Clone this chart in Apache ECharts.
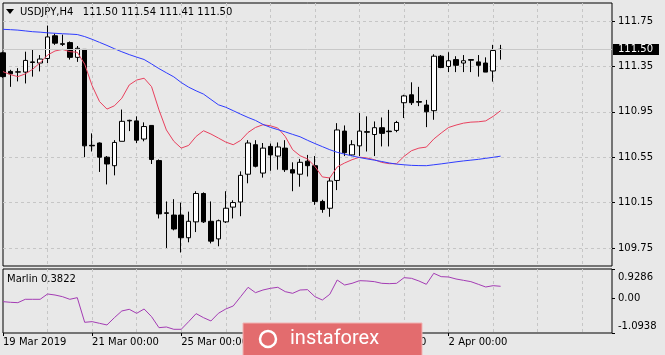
<!DOCTYPE html>
<html>
<head>
<meta charset="utf-8">
<script src="https://cdn.jsdelivr.net/npm/echarts@6/dist/echarts.min.js"></script>
<style>
html,body{margin:0;padding:0;background:#e8e8e8;}
#chart{width:665px;height:355px;}
</style>
</head>
<body>
<div id="chart"></div>
<script>
// USDJPY H4 bars, 19 Mar 2019 00:00 .. 3 Apr 2019 04:00
var opens  = [111.47,111.306,111.302,111.30,111.39,111.38,111.42,111.62,111.55,111.56,
              111.43,111.50,110.655,110.675,110.55,110.475,110.69,110.87,110.87,110.71,
              110.83,110.52,110.06,110.04,110.04,109.84,109.98,110.23,109.985,109.83,
              109.98,110.11,110.155,110.40,110.66,110.41,110.645,110.56,110.63,110.44,
              110.40,110.515,110.475,110.16,110.10,110.345,110.78,110.57,110.65,110.775,
              110.75,110.81,110.78,110.786,111.03,111.10,111.04,111.01,110.96,111.44,
              111.35,111.41,111.38,111.41,111.39,111.38,111.31,111.50];
var closes = [111.26,111.285,111.30,111.403,111.385,111.415,111.61,111.555,111.545,111.43,
              111.51,110.65,110.65,110.55,110.49,110.68,110.866,110.875,110.70,110.82,
              110.53,110.05,110.055,109.917,109.84,109.985,110.23,109.98,109.81,109.99,
              110.10,110.15,110.39,110.675,110.47,110.63,110.57,110.64,110.44,110.41,
              110.505,110.475,110.16,110.09,110.34,110.79,110.59,110.66,110.78,110.77,
              110.81,110.76,110.775,110.856,111.09,111.03,111.035,110.95,111.44,111.34,
              111.40,111.36,111.40,111.405,111.36,111.30,111.49,111.50];
var lows   = [111.25,111.17,111.218,111.20,111.26,111.306,111.38,111.54,111.53,111.41,
              111.39,110.55,110.60,110.42,110.31,110.39,110.69,110.78,110.675,110.69,
              110.49,110.01,109.75,109.905,109.71,109.80,109.89,109.97,109.79,109.765,
              109.97,110.01,110.03,110.32,110.46,110.37,110.43,110.44,110.42,110.25,
              110.29,110.38,110.13,110.06,110.025,110.26,110.56,110.56,110.56,110.60,
              110.56,110.645,110.645,110.77,110.895,111.01,111.00,110.815,110.88,111.335,
              111.30,111.30,111.30,111.30,111.26,111.30,111.216,111.41];
var highs  = [111.48,111.32,111.335,111.48,111.497,111.45,111.71,111.64,111.63,111.57,
              111.53,111.50,110.76,110.68,110.56,110.70,110.97,110.88,110.91,110.857,
              110.83,110.53,110.16,110.18,110.15,110.07,110.25,110.24,110.16,110.00,
              110.25,110.17,110.425,110.70,110.70,110.675,110.67,110.68,110.70,110.505,
              110.535,110.57,110.56,110.175,110.37,110.85,110.83,110.70,110.94,110.91,
              110.865,110.90,110.967,110.87,111.10,111.21,111.17,111.055,111.457,111.45,
              111.475,111.44,111.45,111.41,111.45,111.43,111.54,111.54];
var redMA  = [111.304,111.278,111.26,111.284,111.325,111.383,111.45,111.486,111.50,111.48,
              111.475,111.37,111.18,111.04,110.974,111.003,111.07,111.187,111.23,111.246,
              111.172,110.967,110.79,110.69,110.63,110.654,110.733,110.783,110.754,110.719,
              110.683,110.66,110.698,110.768,110.812,110.836,110.827,110.807,110.733,110.616,
              110.563,110.534,110.469,110.376,110.367,110.464,110.499,110.528,110.55,110.543,
              110.528,110.504,110.493,110.493,110.557,110.607,110.63,110.639,110.71,110.763,
              110.812,110.833,110.85,110.859,110.862,110.87,110.91,110.96];
var blueMA = [111.677,111.674,111.670,111.663,111.656,111.652,111.646,111.642,111.638,111.635,
              111.631,111.613,111.589,111.562,111.535,111.506,111.479,111.454,111.432,111.411,
              111.372,111.331,111.294,111.258,111.208,111.167,111.135,111.106,111.059,111.012,
              110.990,110.960,110.929,110.900,110.874,110.839,110.813,110.793,110.773,110.751,
              110.730,110.699,110.670,110.643,110.616,110.593,110.577,110.561,110.547,110.535,
              110.524,110.512,110.499,110.489,110.483,110.478,110.476,110.475,110.483,110.491,
              110.500,110.509,110.517,110.524,110.531,110.540,110.549,110.559];
var marlin = [-0.103,-0.124,-0.135,-0.029,-0.029,-0.029,0.139,0.107,0.055,-0.029,
              0.023,-0.756,-0.735,-0.788,-0.840,-0.609,-0.398,-0.345,-0.472,-0.335,
              -0.577,-0.925,-0.904,-0.977,-0.977,-0.735,-0.482,-0.609,-0.714,-0.472,
              -0.335,-0.240,0.055,0.350,0.181,0.265,0.318,0.350,0.213,0.160,
              0.265,0.276,0.055,-0.051,0.129,0.581,0.423,0.476,0.560,0.550,
              0.529,0.476,0.465,0.476,0.655,0.634,0.550,0.445,0.792,0.687,
              0.676,0.613,0.571,0.529,0.445,0.360,0.402,0.3822];

var xLabels = ['19 Mar 2019','21 Mar 00:00','25 Mar 00:00','27 Mar 00:00','29 Mar 00:00','2 Apr 00:00'];
var priceTicks = [109.75,110.15,110.55,110.95,111.35,111.75];
var marlinTicks = [-1.0938,0,0.9286];
var lastPrice = 111.50;
var slots = 83; // bars plus the empty space on the right

var cats = [];
for (var i = 0; i < slots; i++) cats.push(String(i));
var candles = [];
for (var i = 0; i < opens.length; i++) candles.push([opens[i], closes[i], lows[i], highs[i]]);

var font = 'DejaVu Sans';
var gridLine = {color:'#c6c6c6', type:[3,3], width:1};
var vGrid = function(i){ return i > 0 && i % 6 === 0; };
var labelAt = function(i){ return i % 12 === 0 && i / 12 < xLabels.length; };

var last = opens.length - 1;
var header = 'USDJPY,H4   ' + opens[last].toFixed(2) + ' ' + highs[last].toFixed(2) + ' ' +
             lows[last].toFixed(2) + ' ' + closes[last].toFixed(2);

var myChart = echarts.init(document.getElementById('chart'));
var option = {
    animation: false,
    backgroundColor: '#e8e8e8',
    grid: [
        {left:3, top:3, width:609, height:263, show:true, borderColor:'#000', borderWidth:1},
        {left:3, top:269, width:609, height:64, show:true, borderColor:'#000', borderWidth:1}
    ],
    xAxis: [
        {gridIndex:0, type:'category', data:cats, boundaryGap:false,
         axisLine:{show:false, onZero:false}, axisTick:{show:false}, axisLabel:{show:false},
         splitLine:{show:true, interval:vGrid, lineStyle:gridLine}},
        {gridIndex:1, type:'category', data:cats, boundaryGap:false, position:'bottom',
         axisLine:{show:false, onZero:false},
         axisTick:{show:true, interval:labelAt, length:3, lineStyle:{color:'#000'}},
         axisLabel:{show:true, interval:labelAt, align:'left', margin:4,
                    formatter:function(v, i){ return xLabels[i / 12]; },
                    color:'#000', fontFamily:font, fontSize:10},
         splitLine:{show:true, interval:vGrid, lineStyle:gridLine}}
    ],
    yAxis: [
        {gridIndex:0, type:'value', position:'right', min:109.591, max:111.909, scale:true,
         axisLine:{show:false},
         axisTick:{show:true, customValues:priceTicks, length:3, lineStyle:{color:'#000'}},
         axisLabel:{customValues:priceTicks, margin:6, color:'#000', fontFamily:font, fontSize:10,
                    formatter:function(v){ return v.toFixed(2); }},
         splitLine:{show:true, lineStyle:gridLine}},
        {gridIndex:1, type:'value', position:'right', min:-1.0938, max:0.9286,
         axisLine:{show:false},
         axisTick:{show:true, customValues:marlinTicks, length:3, lineStyle:{color:'#000'}},
         axisLabel:{customValues:marlinTicks, margin:6, color:'#000', fontFamily:font, fontSize:10,
                    formatter:function(v){
                        if (v > 0) return '{t|' + v.toFixed(4) + '}';
                        if (v < 0) return '{b|' + v.toFixed(4) + '}';
                        return '0.00';
                    },
                    rich:{
                        t:{padding:[16,0,0,0], color:'#000', fontFamily:font, fontSize:10},
                        b:{padding:[0,0,14,0], color:'#000', fontFamily:font, fontSize:10}
                    }},
         splitLine:{show:false}}
    ],
    series: [
        {type:'candlestick', xAxisIndex:0, yAxisIndex:0, data:candles, barWidth:5,
         itemStyle:{color:'#fff', color0:'#000', borderColor:'#000', borderColor0:'#000', borderWidth:1},
         markLine:{silent:true, symbol:['none','none'],
                   lineStyle:{color:'#c8c8c8', type:'solid', width:1},
                   label:{position:'end', distance:1, formatter:lastPrice.toFixed(2),
                          color:'#fff', backgroundColor:'#000', padding:[1,6,0,5],
                          fontFamily:font, fontSize:10},
                   data:[{yAxis:lastPrice}]}},
        {type:'line', xAxisIndex:0, yAxisIndex:0, data:redMA, showSymbol:false,
         lineStyle:{color:'#e8415e', width:1}},
        {type:'line', xAxisIndex:0, yAxisIndex:0, data:blueMA, showSymbol:false,
         lineStyle:{color:'#2f3cff', width:1}},
        {type:'line', xAxisIndex:1, yAxisIndex:1, data:marlin, showSymbol:false,
         lineStyle:{color:'#a43cb4', width:1}}
    ],
    graphic: [
        {type:'polygon', shape:{points:[[6,9],[14,9],[10,14]]}, style:{fill:'#000'}},
        {type:'text', x:20, y:12, style:{text:header, font:'10px "DejaVu Sans"', fill:'#000', verticalAlign:'middle'}},
        {type:'text', x:7, y:279, style:{text:'Marlin ' + marlin[last].toFixed(4), font:'10px "DejaVu Sans"', fill:'#000', verticalAlign:'middle'}},
        {type:'group', z:100, children:[
            {type:'rect', shape:{x:243, y:323, width:179, height:40}, style:{fill:'#e36c6e', stroke:'#f2b3b3', lineWidth:1}, z:100},
            {type:'circle', shape:{cx:268, cy:339, r:8}, style:{fill:'none', stroke:'#fff', lineWidth:2.5}, z:101},
            {type:'text', x:290, y:339, style:{text:'instaforex', font:'20px Roboto', fill:'#fff', verticalAlign:'middle'}, z:101}
        ]}
    ]
};
myChart.setOption(option);
</script>
</body>
</html>
